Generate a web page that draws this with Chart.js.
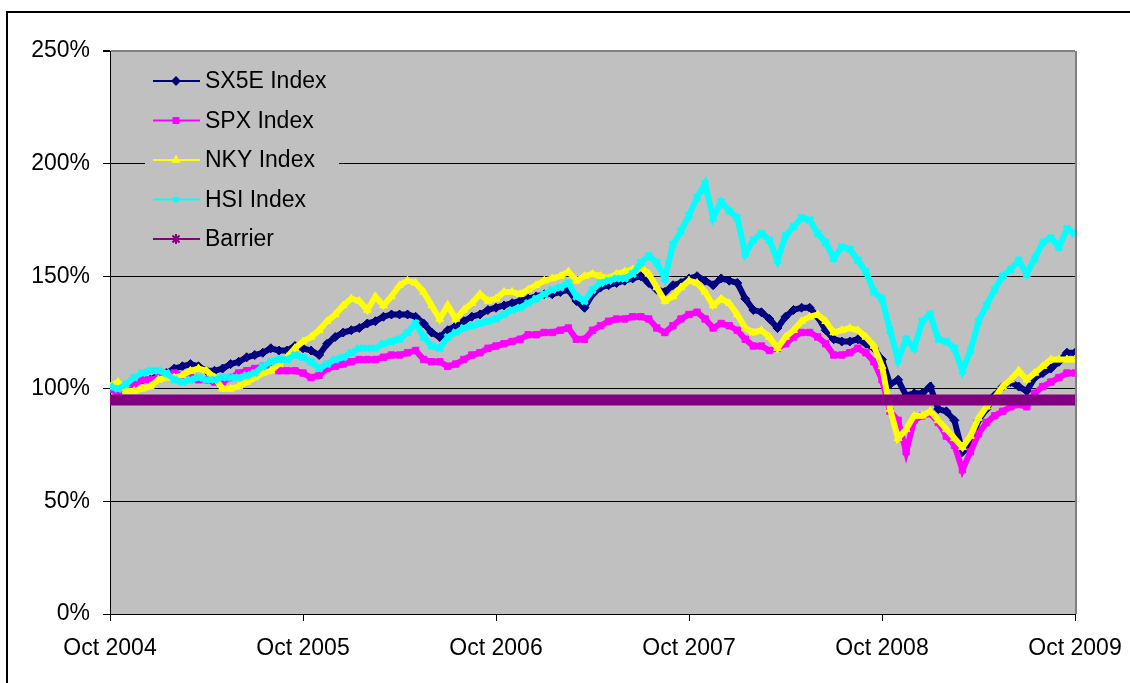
<!DOCTYPE html>
<html>
<head>
<meta charset="utf-8">
<script src="https://cdn.jsdelivr.net/npm/chart.js@4.4.0/dist/chart.umd.min.js"></script>
<style>
  body { margin: 0; background: #fff; }
  canvas { display: block; }
</style>
</head>
<body>
<canvas id="myChart" width="1130" height="683"></canvas>
<script>
(function () {
  'use strict'

  // semi-monthly values, Oct 2004 .. Oct 2009 (121 points), in % of start
  var tickLabels = ['Oct 2004', 'Oct 2005', 'Oct 2006', 'Oct 2007', 'Oct 2008', 'Oct 2009']

  var sx5e = [
    100, 99, 101, 103, 104, 104, 106, 107, 109, 110, 111, 110,
    108, 108, 109, 111, 112, 114, 115, 116, 118, 117, 117, 119,
    118, 117, 115, 120, 123, 125, 126, 127, 129, 130, 132, 133,
    133, 133, 132, 129, 125, 123, 126, 128, 130, 132, 133, 135,
    136, 137, 138, 139, 140, 141, 142, 142, 143, 144, 139, 136,
    142, 145, 146, 147, 148, 149, 150, 147, 144, 143, 146, 147,
    149, 150, 148, 146, 149, 148, 147, 140, 135, 134, 131, 127,
    132, 135, 136, 136, 132, 126, 122, 121, 121, 122, 120, 118,
    113, 102, 104, 97, 98, 98, 101, 91, 90, 86, 72, 76,
    86, 91, 97, 101, 103, 101, 99, 105, 107, 109, 112, 116,
    116
  ]
  var spx = [
    100, 98, 100, 102, 104, 104, 105, 106, 107, 106, 105, 104,
    104, 103, 103, 105, 107, 108, 109, 110, 110, 108, 108, 108,
    107, 105, 106, 109, 110, 111, 112, 113, 113, 113, 114, 115,
    115, 116, 117, 113, 112, 112, 110, 111, 113, 115, 116, 118,
    119, 120, 121, 122, 124, 124, 125, 125, 126, 127, 122, 122,
    126, 128, 130, 131, 131, 132, 132, 131, 127, 125, 128, 131,
    133, 134, 131, 127, 129, 128, 126, 122, 119, 119, 117, 118,
    120, 123, 125, 125, 123, 120, 115, 115, 116, 118, 116, 112,
    104, 90, 86, 72, 86, 88, 89, 85, 79, 75, 64, 72,
    80, 85, 88, 90, 92, 93, 92, 98, 101, 103, 105, 107,
    107
  ]
  var nky = [
    101, 103, 99, 99, 100, 101, 104, 105, 105, 106, 108, 109,
    108, 105, 100, 100, 101, 103, 105, 107, 108, 111, 114, 118,
    121, 123, 126, 130, 133, 137, 140, 139, 135, 141, 137, 141,
    146, 148, 147, 143, 137, 131, 137, 131, 135, 138, 142, 139,
    140, 143, 143, 142, 144, 146, 148, 149, 150, 152, 148, 150,
    151, 150, 149, 151, 152, 153, 154, 151, 145, 139, 141, 145,
    148, 147, 143, 137, 140, 138, 133, 127, 125, 126, 123, 118,
    123, 126, 130, 132, 133, 130, 125, 126, 127, 126, 123, 119,
    110, 91, 78, 82, 88, 88, 90, 86, 82, 78, 74, 79,
    87, 92, 96, 101, 104, 108, 104, 107, 110, 113, 113, 113,
    113
  ]
  var hsi = [
    101, 100, 102, 105, 107, 108, 108, 107, 104, 103, 104, 105,
    104, 104, 105, 105, 105, 106, 107, 110, 112, 113, 113, 115,
    114, 112, 109, 111, 113, 114, 116, 118, 118, 118, 120, 121,
    122, 125, 129, 123, 119, 118, 123, 125, 127, 128, 129, 130,
    131, 133, 135, 136, 138, 140, 142, 144, 145, 147, 141, 139,
    144, 147, 148, 149, 149, 151, 156, 159, 156, 149, 164, 170,
    177, 185, 191, 176, 183, 179, 176, 160, 166, 169, 166, 157,
    168, 172, 176, 175, 169, 165, 158, 163, 162, 157, 152, 143,
    140, 126, 113, 122, 118, 130, 133, 122, 121, 118, 108, 117,
    130, 137, 144, 150, 153, 157, 151, 158, 165, 167, 163, 171,
    169
  ]
  var barrierLevel = 95

  function pts(arr) {
    return arr.map(function (v, i) { return { x: i, y: v } })
  }

  var FONT = 'Liberation Sans, Arial, sans-serif'

  var series = [
    { label: 'SX5E Index', data: pts(sx5e), color: '#000080', style: 'rectRot', order: 5 },
    { label: 'SPX Index', data: pts(spx), color: '#FF00FF', style: 'rect', order: 4 },
    { label: 'NKY Index', data: pts(nky), color: '#FFFF00', style: 'triangle', order: 3 },
    { label: 'HSI Index', data: pts(hsi), color: '#00FFFF', style: 'crossRot', order: 2 },
    { label: 'Barrier', data: pts(sx5e.map(function () { return barrierLevel })), color: '#800080', style: 'star', order: 1 }
  ]

  var datasets = series.map(function (s) {
    var isBarrier = s.label === 'Barrier'
    return {
      label: s.label,
      data: s.data,
      borderColor: s.color,
      backgroundColor: s.color,
      borderWidth: isBarrier ? 11 : 6,
      pointStyle: s.style,
      pointRadius: isBarrier ? 0 : 4.5,
      pointBorderWidth: s.style === 'crossRot' ? 3 : 1,
      pointBackgroundColor: s.color,
      pointBorderColor: s.color,
      tension: 0,
      order: s.order
    }
  })

  var framePlugin = {
    id: 'frame',
    beforeDraw: function (chart) {
      var c = chart.ctx, a = chart.chartArea
      c.save()
      c.fillStyle = '#ffffff'
      c.fillRect(0, 0, chart.width, chart.height)
      c.fillStyle = '#C0C0C0'
      c.fillRect(a.left, a.top, a.right - a.left, a.bottom - a.top)
      c.restore()
    },
    afterDraw: function (chart) {
      var c = chart.ctx, a = chart.chartArea
      c.save()
      // right border of plot area
      c.strokeStyle = '#808080'
      c.lineWidth = 2
      c.beginPath()
      c.moveTo(a.right + 1, a.top)
      c.lineTo(a.right + 1, a.bottom)
      c.stroke()
      // outer frame
      c.strokeStyle = '#000000'
      c.lineWidth = 2
      c.strokeRect(7, 12, 1300, 1000)
      c.restore()
    }
  }

  var legendPlugin = {
    id: 'boxLegend',
    afterDatasetsDraw: function (chart) {
      var c = chart.ctx
      c.save()
      c.fillStyle = '#C0C0C0'
      c.fillRect(145, 60, 194, 200)
      series.forEach(function (s, i) {
        var y = 81 + i * 39.5
        c.strokeStyle = s.color
        c.lineWidth = 2
        c.beginPath()
        c.moveTo(153, y)
        c.lineTo(200, y)
        c.stroke()
        c.fillStyle = s.color
        c.strokeStyle = s.color
        if (Chart.helpers && Chart.helpers.drawPoint) {
          Chart.helpers.drawPoint(c, {
            pointStyle: s.style,
            radius: s.style === 'star' ? 5 : 3.5,
            borderWidth: (s.style === 'crossRot' || s.style === 'star') ? 2 : 1,
            rotation: 0
          }, 176, y)
        }
        c.fillStyle = '#000000'
        c.font = '23px ' + FONT
        c.textBaseline = 'middle'
        c.textAlign = 'left'
        c.fillText(s.label, 205, y + 1)
      })
      c.restore()
    }
  }

  var ctx = document.getElementById('myChart')
  var config = {
    type: 'line',
    data: { datasets: datasets },
    options: {
      responsive: false,
      animation: false,
      devicePixelRatio: 1,
      layout: { padding: { left: 0, top: 51, right: 55, bottom: 0 } },
      scales: {
        x: {
          type: 'linear',
          min: 0,
          max: 120,
          afterBuildTicks: function (scale) {
            scale.ticks = [0, 24, 48, 72, 96, 120].map(function (v) { return { value: v } })
          },
          afterFit: function (scale) {
            scale.height = 69
            scale.paddingRight = 0
            scale.paddingLeft = 0
          },
          ticks: {
            autoSkip: false,
            maxRotation: 0,
            color: '#000',
            padding: 14,
            font: { family: FONT, size: 23 },
            callback: function (value) { return tickLabels[Math.round(value / 24)] }
          },
          grid: { drawOnChartArea: false, drawTicks: true, tickLength: 7, tickColor: '#000' },
          border: { color: '#000', width: 1 }
        },
        y: {
          min: 0,
          max: 250,
          afterFit: function (scale) {
            scale.width = 110
            scale.paddingTop = 0
            scale.paddingBottom = 0
          },
          ticks: {
            stepSize: 50,
            color: '#000',
            padding: 13,
            font: { family: FONT, size: 23 },
            callback: function (value) { return value + '%' }
          },
          grid: {
            color: function (c) { return c.tick && c.tick.value === 250 ? '#808080' : '#000' },
            lineWidth: function (c) { return c.tick && c.tick.value === 250 ? 2 : 1 },
            tickLength: 7,
            tickColor: '#000'
          },
          border: { color: '#000', width: 1 }
        }
      },
      plugins: {
        legend: { display: false },
        tooltip: { enabled: false }
      }
    },
    plugins: [framePlugin, legendPlugin]
  }
  var lineChart = new Chart(ctx, config)
})()
</script>
</body>
</html>
